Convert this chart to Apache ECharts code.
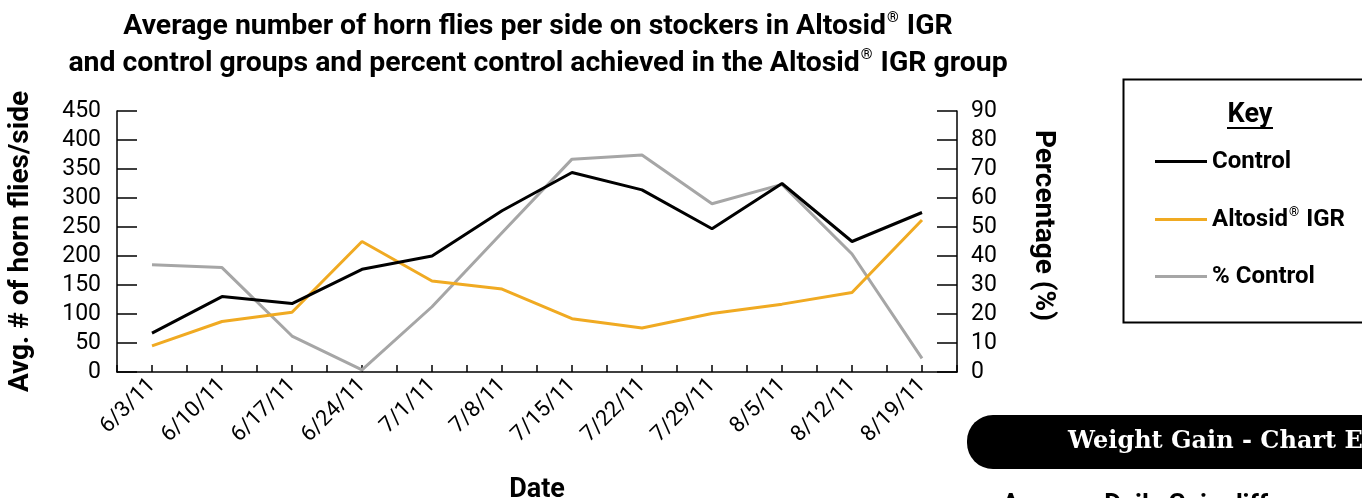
<!DOCTYPE html>
<html>
<head>
<meta charset="utf-8">
<title>Horn flies</title>
<script src="https://cdn.jsdelivr.net/npm/echarts@6/dist/echarts.min.js"></script>
<style>
  html, body { margin: 0; padding: 0; background: #fff; }
  #main { width: 1362px; height: 498px; }
</style>
</head>
<body>
<div id="main"></div>
<script>
// dates on the x axis
var dates = ['6/3/11', '6/10/11', '6/17/11', '6/24/11', '7/1/11', '7/8/11',
  '7/15/11', '7/22/11', '7/29/11', '8/5/11', '8/12/11', '8/19/11'];

// avg # of horn flies per side (left axis)
var control = [67, 130, 118, 177, 200, 278, 344, 314, 247, 325, 225, 275];
var altosid = [45, 87, 103, 225, 157, 143, 92, 76, 101, 117, 137, 262];

// percent control (right axis)
var pctControl = [37, 36, 12.4, 0.7, 22.5, 48, 73.4, 74.8, 58, 64.7, 40.7, 4.7];

var leftTicks = [0, 450, 50];
var rightTicks = [0, 90, 10];

var font = 'Roboto';

// ® is drawn small and raised
function sup(s) { return s.replace(/®/g, '{sup|®}'); }

var myChart = echarts.init(document.getElementById('main'));

// second category axis, only for the ticks under each point
var tickAxis = {
  type: 'category',
  data: dates,
  position: 'bottom',
  axisLine: { show: false },
  axisLabel: { show: false },
  axisTick: { show: true, inside: true, length: 7, alignWithLabel: true,
    lineStyle: { color: '#000', width: 1.5 } },
  splitLine: { show: false }
};

var option = {
  animation: false,
  backgroundColor: '#fff',
  title: {
    text: sup('Average number of horn flies per side on stockers in Altosid® IGR\nand control groups and percent control achieved in the Altosid® IGR group'),
    left: 533,
    top: 3,
    textAlign: 'center',
    textStyle: {
      fontFamily: font, fontWeight: 'bold', fontSize: 28.4, lineHeight: 37, color: '#000',
      rich: { sup: { fontFamily: font, fontWeight: 'bold', fontSize: 15, padding: [0, 1, 16, 1], color: '#000' } }
    }
  },
  grid: { left: 117, right: 405, top: 111, bottom: 126, outerBoundsMode: 'none' },
  legend: {
    orient: 'vertical',
    left: 1150,
    top: 144,
    itemWidth: 52,
    itemHeight: 3,
    itemGap: 32,
    icon: 'rect',
    formatter: sup,
    textStyle: {
      fontFamily: font, fontWeight: 'bold', fontSize: 24, lineHeight: 25, color: '#000',
      rich: { sup: { fontFamily: font, fontWeight: 'bold', fontSize: 13, padding: [0, 1, 14, 1], color: '#000' } }
    },
    data: ['Control', 'Altosid® IGR', '% Control']
  },
  xAxis: [{
    type: 'category',
    data: dates,
    position: 'bottom',
    boundaryGap: true,
    name: 'Date',
    nameLocation: 'middle',
    nameGap: 105,
    nameTextStyle: { fontFamily: font, fontWeight: 'bold', fontSize: 27, color: '#000' },
    axisLine: { lineStyle: { color: '#000', width: 1.5 } },
    axisTick: { show: true, inside: true, length: 7, lineStyle: { color: '#000', width: 1.5 } },
    axisLabel: { rotate: 45, margin: 10, interval: 0, fontFamily: font, fontSize: 22, color: '#000' }
  }, tickAxis],
  yAxis: [{
    type: 'value',
    min: leftTicks[0], max: leftTicks[1], interval: leftTicks[2],
    position: 'left',
    name: 'Avg. # of horn flies/side',
    nameLocation: 'middle',
    nameGap: 82,
    nameTextStyle: { fontFamily: font, fontWeight: 'bold', fontSize: 28, color: '#000' },
    axisLine: { show: true, lineStyle: { color: '#000', width: 1.5 } },
    axisTick: { show: true, inside: true, length: 20, lineStyle: { color: '#000', width: 1.5 } },
    axisLabel: { margin: 16, fontFamily: font, fontSize: 23, color: '#000' },
    splitLine: { show: false }
  }, {
    type: 'value',
    min: rightTicks[0], max: rightTicks[1], interval: rightTicks[2],
    position: 'right',
    name: 'Percentage (%)',
    nameLocation: 'middle',
    nameRotate: -90,
    nameGap: 72,
    nameTextStyle: { fontFamily: font, fontWeight: 'bold', fontSize: 28, color: '#000', padding: [0, 32, 0, 0] },
    axisLine: { show: true, lineStyle: { color: '#000', width: 1.5 } },
    axisTick: { show: true, inside: true, length: 20, lineStyle: { color: '#000', width: 1.5 } },
    axisLabel: { margin: 14, fontFamily: font, fontSize: 23, color: '#000' },
    splitLine: { show: false }
  }],
  series: [{
    name: 'Control',
    type: 'line',
    data: control,
    yAxisIndex: 0,
    showSymbol: false,
    color: '#000',
    lineStyle: { width: 3, color: '#000' },
    z: 3
  }, {
    name: 'Altosid® IGR',
    type: 'line',
    data: altosid,
    yAxisIndex: 0,
    showSymbol: false,
    color: '#f0aa22',
    lineStyle: { width: 3, color: '#f0aa22' },
    z: 2
  }, {
    name: '% Control',
    type: 'line',
    data: pctControl,
    yAxisIndex: 1,
    showSymbol: false,
    color: '#a6a6a6',
    lineStyle: { width: 3, color: '#a6a6a6' },
    z: 1
  }],
  graphic: [
    // key box
    { type: 'rect', left: 1121, top: 77, shape: { width: 300, height: 243 },
      style: { fill: 'none', stroke: '#000', lineWidth: 2 } },
    { type: 'text', x: 1250, y: 115,
      style: { text: 'Key', fontFamily: font, fontWeight: 'bold', fontSize: 27, fill: '#000',
        textAlign: 'center', textVerticalAlign: 'middle' } },
    { type: 'line', shape: { x1: 1227, y1: 128, x2: 1273, y2: 128 },
      style: { stroke: '#000', lineWidth: 2 } },
    // banner of the next section
    { type: 'rect', left: 967, top: 415, shape: { width: 430, height: 54, r: 26 },
      style: { fill: '#000' } },
    { type: 'text', x: 1068, y: 442,
      style: { text: 'Weight Gain - Chart E', fontFamily: 'DejaVu Serif', fontWeight: 'bold', fontSize: 24,
        fill: '#fff', textVerticalAlign: 'middle' } },
    { type: 'text', x: 1002, y: 492,
      style: { text: 'Average Daily Gain differences', fontFamily: font, fontWeight: 'bold', fontSize: 26,
        fill: '#000', textVerticalAlign: 'top' } }
  ]
};

myChart.setOption(option);
</script>
</body>
</html>
